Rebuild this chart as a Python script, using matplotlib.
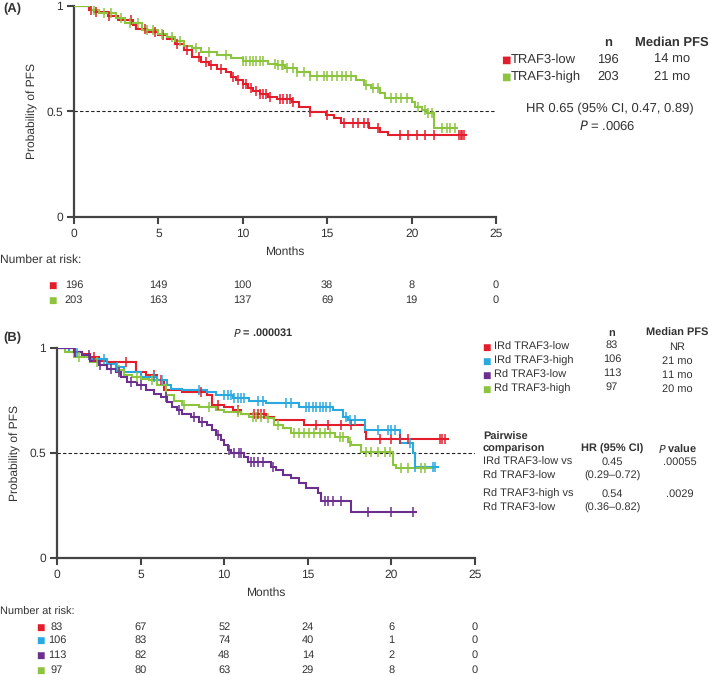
import numpy as np
import matplotlib
matplotlib.use("Agg")
import matplotlib.pyplot as plt
from matplotlib.transforms import blended_transform_factory

plt.rcParams['font.family'] = ['Liberation Sans', 'DejaVu Sans']
plt.rcParams['text.hinting'] = 'no_hinting'
plt.rcParams['text.hinting_factor'] = 1

# ---------------- Data: panel A ----------------
a_low_t = [0, 0.9, 1.2, 2.0, 2.6, 3.5, 3.7, 4.3, 5.0, 5.5, 6.0, 6.5, 7.0, 7.5, 8.0, 8.5, 9.0, 9.3, 9.6,
           10.0, 10.3, 10.6, 11.0, 11.5, 12.0, 12.9, 13.3, 14.0, 14.9, 15.4, 15.8, 17.5, 18.1, 18.6]
a_low_s = [1.0, 0.98, 0.97, 0.95, 0.93, 0.907, 0.89, 0.875, 0.86, 0.84, 0.82, 0.79, 0.757, 0.733, 0.718, 0.70,
           0.686, 0.66, 0.647, 0.63, 0.612, 0.596, 0.58, 0.568, 0.56, 0.544, 0.52, 0.498, 0.482, 0.466, 0.443,
           0.419, 0.403, 0.388]
a_low_cens = [1.0, 1.3, 2.1, 3.4, 4.2, 4.8, 5.3, 6.1, 6.7, 7.4, 7.8, 8.1, 8.7, 9.4, 9.7, 10.0, 10.2, 10.5, 10.8,
              11.0, 11.2, 11.4, 11.6, 12.2, 12.4, 12.6, 12.8, 13.0, 14.0, 15.0, 16.0, 16.5, 16.8, 17.2, 17.4,
              18.0, 19.3, 19.8, 20.3, 20.8, 21.3, 22.8, 22.9, 23.0, 23.1]
a_low_end = 23.2

a_high_t = [0, 1.0, 1.5, 2.5, 3.0, 4.0, 5.0, 5.5, 6.0, 6.5, 7.0, 7.5, 8.5, 9.3, 10.0, 11.5, 12.0, 12.5, 13.2,
            14.0, 16.7, 17.2, 17.6, 18.1, 18.4, 20.0, 20.2, 20.6, 20.9, 21.3]
a_high_s = [1.0, 0.98, 0.965, 0.94, 0.915, 0.883, 0.867, 0.85, 0.83, 0.81, 0.797, 0.78, 0.765, 0.75, 0.738,
            0.725, 0.718, 0.703, 0.686, 0.667, 0.648, 0.624, 0.608, 0.585, 0.564, 0.545, 0.52, 0.506, 0.49, 0.419]
a_high_cens = [1.2, 1.8, 2.2, 2.8, 3.3, 3.8, 4.3, 4.7, 5.2, 5.8, 6.3, 7.2, 8.0, 9.0, 10.0, 10.2, 10.4, 10.6,
               10.8, 11.0, 11.2, 11.9, 12.1, 12.3, 12.4, 12.6, 13.0, 13.2, 13.6, 14.0, 14.4, 14.8, 15.0, 15.3,
               15.6, 15.9, 16.1, 16.4, 17.3, 17.7, 18.0, 18.8, 19.1, 19.4, 19.7, 20.4, 20.8, 21.0, 21.2, 21.8,
               22.1, 22.3, 22.6]
a_high_end = 22.7

a_labels = ["TRAF3-low", "TRAF3-high"]
a_n = ["196", "203"]
a_median = ["14 mo", "21 mo"]
a_risk = [["196", "149", "100", "38", "8", "0"],
          ["203", "163", "137", "69", "19", "0"]]

# ---------------- Data: panel B ----------------
b_irdlow_t = [0, 1.0, 1.5, 2.0, 2.5, 3.0, 4.7, 5.3, 6.0, 6.4, 7.5, 9.0, 9.3, 10.0, 10.5, 11.0, 12.5, 13.0,
              14.8, 18.4, 18.5]
b_irdlow_s = [1.0, 0.98, 0.973, 0.957, 0.94, 0.933, 0.886, 0.87, 0.846, 0.80, 0.79, 0.775, 0.728, 0.72, 0.704,
              0.688, 0.672, 0.657, 0.633, 0.60, 0.567]
b_irdlow_cens = [1.1, 2.2, 4.1, 5.8, 6.2, 8.6, 9.6, 10.8, 11.8, 12.0, 12.2, 12.4, 15.5, 16.2, 17.0, 17.6,
                 19.3, 20.0, 20.5, 21.0, 22.9, 23.0, 23.2]
b_irdlow_end = 23.4

b_irdhigh_t = [0, 0.7, 1.5, 2.0, 3.0, 3.5, 4.0, 5.0, 6.0, 6.6, 6.8, 7.5, 9.0, 9.5, 10.5, 11.5, 12.5, 14.5,
               16.5, 17.1, 17.4, 18.4, 20.5, 21.3, 21.4]
b_irdhigh_s = [1.0, 0.98, 0.965, 0.95, 0.926, 0.91, 0.886, 0.862, 0.846, 0.823, 0.807, 0.80, 0.79, 0.775,
               0.764, 0.75, 0.736, 0.72, 0.705, 0.673, 0.657, 0.61, 0.546, 0.498, 0.435]
b_irdhigh_cens = [1.2, 2.8, 3.6, 5.8, 6.3, 8.5, 10.0, 10.2, 10.4, 10.6, 10.8, 11.0, 11.2, 12.0, 12.3, 13.7,
                  14.0, 14.9, 15.1, 15.3, 15.5, 15.7, 15.9, 16.1, 16.3, 17.3, 17.5, 17.8, 19.2, 19.8, 20.0,
                  20.2, 21.1, 21.4, 22.5, 22.6]
b_irdhigh_end = 22.8

b_rdlow_t = [0, 1.0, 1.5, 2.0, 2.5, 3.0, 3.5, 3.8, 4.2, 4.8, 5.3, 5.8, 6.2, 6.6, 6.9, 7.2, 7.5, 8.0, 8.5,
             9.0, 9.3, 9.5, 9.8, 10.0, 10.2, 10.4, 11.2, 11.4, 12.8, 13.1, 13.5, 14.0, 14.5, 14.9, 15.6,
             15.8, 17.6]
b_rdlow_s = [1.0, 0.98, 0.965, 0.94, 0.92, 0.90, 0.886, 0.862, 0.84, 0.823, 0.80, 0.783, 0.767, 0.744, 0.72,
             0.704, 0.688, 0.672, 0.649, 0.633, 0.609, 0.585, 0.562, 0.538, 0.514, 0.498, 0.483, 0.459, 0.435,
             0.42, 0.396, 0.38, 0.356, 0.332, 0.308, 0.27, 0.22]
b_rdlow_cens = [1.1, 1.9, 2.6, 3.2, 3.7, 4.4, 5.0, 6.5, 7.3, 8.2, 8.7, 9.6, 10.3, 10.6, 10.9, 11.0, 11.6,
                11.8, 12.0, 12.3, 12.9, 16.0, 16.2, 16.5, 17.0, 18.6, 20.0, 21.3]
b_rdlow_end = 21.5

b_rdhigh_t = [0, 0.5, 1.0, 2.0, 2.5, 3.0, 3.5, 4.0, 4.5, 5.0, 5.5, 6.0, 6.5, 7.0, 7.5, 8.5, 9.5, 10.0, 11.0,
              11.5, 12.5, 13.0, 13.5, 14.0, 16.6, 17.4, 17.6, 18.2, 20.1, 20.3]
b_rdhigh_s = [1.0, 0.98, 0.957, 0.933, 0.918, 0.90, 0.894, 0.87, 0.862, 0.854, 0.846, 0.823, 0.775, 0.75,
              0.728, 0.72, 0.704, 0.696, 0.688, 0.672, 0.665, 0.633, 0.617, 0.594, 0.578, 0.554, 0.538, 0.506,
              0.443, 0.427]
b_rdhigh_cens = [1.3, 2.4, 3.7, 4.8, 5.7, 7.6, 9.1, 10.8, 11.7, 11.9, 12.2, 12.6, 13.2, 14.2, 14.5, 14.8,
                 15.1, 15.4, 15.7, 16.0, 16.3, 16.9, 17.1, 17.5, 18.5, 18.8, 19.2, 19.6, 19.9, 20.6, 21.0,
                 21.8, 22.0]
b_rdhigh_end = 22.5

b_labels = ["IRd TRAF3-low", "IRd TRAF3-high", "Rd TRAF3-low", "Rd TRAF3-high"]
b_n = ["83", "106", "113", "97"]
b_median = ["NR", "21 mo", "11 mo", "20 mo"]
b_risk = [["83", "67", "52", "24", "6", "0"],
          ["106", "83", "74", "40", "1", "0"],
          ["113", "82", "48", "14", "2", "0"],
          ["97", "80", "63", "29", "8", "0"]]

risk_times = [0, 5, 10, 15, 20, 25]

RED = "#e31d2b"
GREEN = "#8cc43f"
BLUE = "#2aa9e0"
PURPLE = "#6b2f8f"
TXT = "#333333"
SPINE = "#444444"

W, H = 709, 675
fig = plt.figure(figsize=(W / 100, H / 100), dpi=100)


def fx(px):
    return px / W


def fy(py):
    return 1 - py / H


def km(ax, t, s, cens, end, color):
    t = np.asarray(t, float)
    s = np.asarray(s, float)
    xs = np.append(t, end)
    ys = np.append(s, s[-1])
    ax.plot(xs, ys, drawstyle="steps-post", color=color, lw=1.5, solid_joinstyle="miter", zorder=3)
    c = np.asarray(cens, float)
    idx = np.searchsorted(t, c, side="right") - 1
    ax.plot(c, s[idx], ls="none", marker="|", ms=7.5, mew=1.1, color=color, zorder=4)


def style_axes(ax):
    ax.set_xlim(0, 25)
    ax.set_ylim(0, 1)
    for sp in ["top", "right"]:
        ax.spines[sp].set_visible(False)
    for sp in ["left", "bottom"]:
        ax.spines[sp].set_color(SPINE)
        ax.spines[sp].set_linewidth(1.6)
    ax.set_xticks([0, 5, 10, 15, 20, 25])
    ax.set_yticks([0, 0.5, 1])
    ax.set_yticklabels(["0", "0.5", "1"])
    ax.tick_params(direction="out", length=5, width=1.5, color=SPINE, labelsize=8.5, labelcolor=TXT, pad=3)
    ax.axhline(0.5, color="#222222", lw=0.8, ls=(0, (3, 2)), zorder=1)
    ax.set_xlabel("Months", fontsize=8.5, color=TXT, labelpad=5)
    ax.set_ylabel("Probability of PFS", fontsize=8.5, color=TXT, labelpad=6)


def risk_table(ax, rows, colors, y_px, square_px, fs):
    tr = blended_transform_factory(ax.transData, fig.transFigure)
    for row, col, y in zip(rows, colors, y_px):
        for t, v in zip(risk_times, row):
            ax.text(t, fy(y), v, transform=tr, ha="center", va="center", fontsize=fs, color=TXT)
        fig.text(fx(square_px), fy(y), "■", ha="center", va="center", fontsize=6.5, color=col,
                 family="DejaVu Sans")


# ---------------- Panel A ----------------
axA = fig.add_axes([fx(74), fy(217), fx(496) - fx(74), fy(5.5) - fy(217)])
style_axes(axA)
km(axA, a_low_t, a_low_s, a_low_cens, a_low_end, RED)
km(axA, a_high_t, a_high_s, a_high_cens, a_high_end, GREEN)

fig.text(fx(3), fy(9), "(A)", fontsize=9, fontweight="bold", color=TXT, va="center")
fig.text(fx(0), fy(260), "Number at risk:", fontsize=8.8, color=TXT, va="center")
risk_table(axA, a_risk, [RED, GREEN], [285, 300], 52, 8)

fs_a = 9.2
fig.text(fx(608), fy(43), "n", fontsize=fs_a, fontweight="bold", color=TXT, ha="center", va="center")
fig.text(fx(672), fy(43), "Median PFS", fontsize=fs_a, fontweight="bold", color=TXT, ha="center", va="center")
for lab, n, med, col, y in zip(a_labels, a_n, a_median, [RED, GREEN], [60, 77]):
    fig.text(fx(506), fy(y), "■", fontsize=7, color=col, ha="center", va="center", family="DejaVu Sans")
    fig.text(fx(511), fy(y), lab, fontsize=fs_a, color=TXT, ha="left", va="center")
    fig.text(fx(608), fy(y), n, fontsize=fs_a, color=TXT, ha="center", va="center")
    fig.text(fx(672), fy(y), med, fontsize=fs_a, color=TXT, ha="center", va="center")
fig.text(fx(610), fy(109), "HR 0.65 (95% CI, 0.47, 0.89)", fontsize=fs_a, color=TXT, ha="center", va="center")
fig.text(fx(607), fy(126), r"$\it{P}$ = .0066", fontsize=fs_a, color=TXT, ha="center", va="center")

# ---------------- Panel B ----------------
axB = fig.add_axes([fx(57), fy(558), fx(475) - fx(57), fy(348) - fy(558)])
style_axes(axB)
km(axB, b_irdlow_t, b_irdlow_s, b_irdlow_cens, b_irdlow_end, RED)
km(axB, b_irdhigh_t, b_irdhigh_s, b_irdhigh_cens, b_irdhigh_end, BLUE)
km(axB, b_rdhigh_t, b_rdhigh_s, b_rdhigh_cens, b_rdhigh_end, GREEN)
km(axB, b_rdlow_t, b_rdlow_s, b_rdlow_cens, b_rdlow_end, PURPLE)

fig.text(fx(3), fy(338), "(B)", fontsize=9, fontweight="bold", color=TXT, va="center")
fig.text(fx(263), fy(333), r"$\bf{\it{P}}$ = .000031", fontsize=8.2, fontweight="bold", color=TXT,
         ha="center", va="center")
fig.text(fx(0), fy(612), "Number at risk:", fontsize=7.6, color=TXT, va="center")
risk_table(axB, b_risk, [RED, BLUE, PURPLE, GREEN], [627, 640, 655, 670], 40, 7.8)

fs_b = 7.8
fig.text(fx(612), fy(333), "n", fontsize=fs_b, fontweight="bold", color=TXT, ha="center", va="center")
fig.text(fx(677), fy(333), "Median PFS", fontsize=fs_b, fontweight="bold", color=TXT, ha="center", va="center")
for lab, n, med, col, y in zip(b_labels, b_n, b_median, [RED, BLUE, PURPLE, GREEN], [347, 361, 375, 389]):
    fig.text(fx(486), fy(y), "■", fontsize=6.5, color=col, ha="center", va="center", family="DejaVu Sans")
    fig.text(fx(494), fy(y), lab, fontsize=fs_b, color=TXT, ha="left", va="center")
    fig.text(fx(612), fy(y - 2), n, fontsize=fs_b, color=TXT, ha="center", va="center")
    fig.text(fx(677), fy(y), med, fontsize=fs_b, color=TXT, ha="center", va="center")

fig.text(fx(483), fy(437), "Pairwise", fontsize=fs_b, fontweight="bold", color=TXT, ha="left", va="center")
fig.text(fx(483), fy(449), "comparison", fontsize=fs_b, fontweight="bold", color=TXT, ha="left", va="center")
fig.text(fx(612), fy(449), "HR (95% CI)", fontsize=fs_b, fontweight="bold", color=TXT, ha="center", va="center")
fig.text(fx(678), fy(449), r"$\bf{\it{P}}$ value", fontsize=fs_b, fontweight="bold", color=TXT,
         ha="center", va="center")

pair_rows = [("IRd TRAF3-low vs", "Rd TRAF3-low", "0.45", "(0.29\u20130.72)", ".00055", 462, 476),
             ("Rd TRAF3-high vs", "Rd TRAF3-low", "0.54", "(0.36\u20130.82)", ".0029", 494, 508)]
for l1, l2, hr, ci, p, y1, y2 in pair_rows:
    fig.text(fx(483), fy(y1), l1, fontsize=fs_b, color=TXT, ha="left", va="center")
    fig.text(fx(483), fy(y2), l2, fontsize=fs_b, color=TXT, ha="left", va="center")
    fig.text(fx(612), fy(y1), hr, fontsize=fs_b, color=TXT, ha="center", va="center")
    fig.text(fx(612), fy(y2), ci, fontsize=fs_b, color=TXT, ha="center", va="center")
    fig.text(fx(680), fy(y1), p, fontsize=fs_b, color=TXT, ha="center", va="center")

fig.savefig("out.png", dpi=100, facecolor="white")
